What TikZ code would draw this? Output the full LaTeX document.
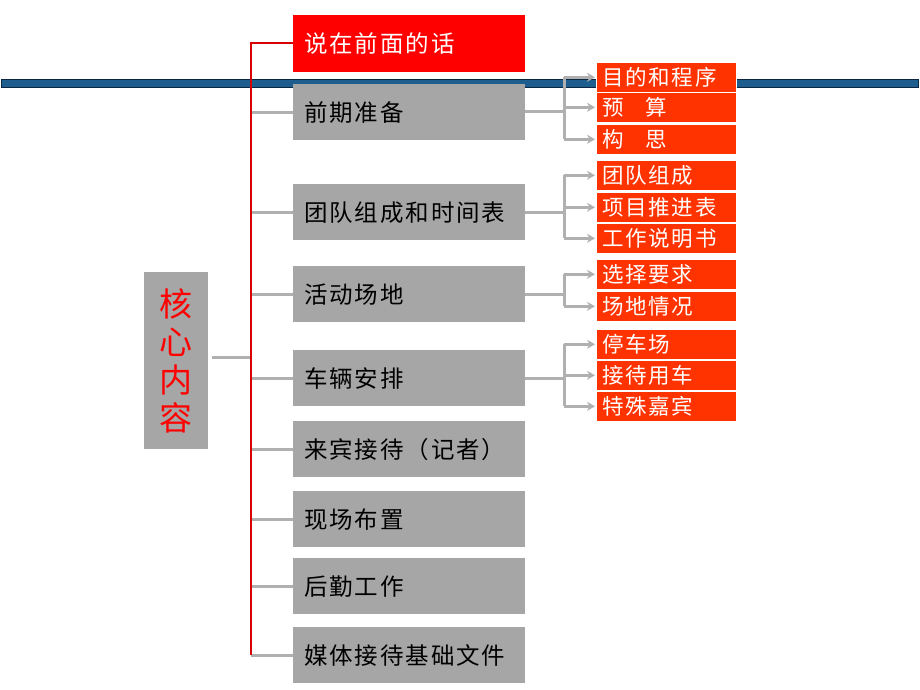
\documentclass[tikz,border=0pt]{standalone}
\usepackage{fontspec}
\newfontfamily\cjk{Noto Sans CJK SC}
\newfontfamily\cjkwide[LetterSpace=8]{Noto Sans CJK SC}
\usetikzlibrary{arrows.meta}
\definecolor{boxgray}{HTML}{A6A6A6}
\definecolor{linegray}{HTML}{B0B0B0}
\definecolor{topred}{HTML}{FF0000}
\definecolor{subred}{HTML}{FF3300}
\definecolor{barblue}{HTML}{1D5E8E}
\definecolor{barnavy}{HTML}{0B2545}
\tikzset{
  mainbox/.style={rectangle, fill=boxgray, anchor=north west, minimum height=56pt,
    text width=210pt, inner xsep=11pt, align=left, font=\cjkwide\fontsize{23.5}{24}\selectfont},
  subbox/.style={rectangle, fill=subred, draw=white, line width=0.6pt, anchor=north west,
    text=white, minimum height=30pt, text width=128pt, inner xsep=6pt, align=left,
    font=\cjkwide\fontsize{21.5}{22}\selectfont},
  glink/.style={draw=linegray, line width=3pt},
  garrow/.style={draw=linegray, line width=2.6pt, -{Stealth[length=8pt,width=9pt]}},
  rlink/.style={draw=topred!85!black, line width=1.8pt},
}
\begin{document}
\begin{tikzpicture}[x=1pt,y=-1pt]
\useasboundingbox (0,0) rectangle (920,690);
\fill[white] (0,0) rectangle (920,690);
% blue bar
\draw[fill=barblue, draw=barnavy, line width=1pt] (1,80) rectangle (918,88);
% core box
\node[rectangle, fill=boxgray, anchor=north west, minimum width=64pt, minimum height=177pt,
  text=topred, font=\cjk\fontsize{33}{38}\selectfont, align=center, inner sep=0pt]
  (core) at (144,272) {核\\心\\内\\容};
% main boxes
\node[mainbox, fill=topred, text=white, minimum height=57pt] (m0) at (293,15) {说在前面的话};
\node[mainbox] (m1) at (293,84) {前期准备};
\node[mainbox] (m2) at (293,184) {团队组成和时间表};
\node[mainbox] (m3) at (293,266) {活动场地};
\node[mainbox] (m4) at (293,350) {车辆安排};
\node[mainbox] (m5) at (293,421) {来宾接待（记者）};
\node[mainbox] (m6) at (293,491) {现场布置};
\node[mainbox] (m7) at (293,558) {后勤工作};
\node[mainbox] (m8) at (293,627) {媒体接待基础文件};
% sub boxes
\node[subbox] (a1) at (596,62) {目的和程序};
\node[subbox] (a2) at (596,92) {预\hspace{1em}算};
\node[subbox] (a3) at (596,124) {构\hspace{1em}思};
\node[subbox] (b1) at (596,160) {团队组成};
\node[subbox] (b2) at (596,192) {项目推进表};
\node[subbox] (b3) at (596,223) {工作说明书};
\node[subbox] (c1) at (596,259) {选择要求};
\node[subbox] (c2) at (596,291) {场地情况};
\node[subbox] (d1) at (596,329) {停车场};
\node[subbox] (d2) at (596,360) {接待用车};
\node[subbox] (d3) at (596,391) {特殊嘉宾};
% trunk coordinates
\coordinate (ttop) at (251,43);
\coordinate (tbot) at (251,655);
\coordinate (tcore) at (251,357);
% gray branches to main boxes
\draw[glink] (core.east |- tcore) ++(4,0) -- (tcore);
\foreach \m in {m1,m2,m3,m4,m5,m6,m7,m8}{
  \draw[glink] (ttop |- \m.west) -- (\m.west);
}
% red trunk
\draw[rlink] (m0.west |- ttop) -- (ttop) -- (tbot);
% sub connectors
\coordinate (ja) at (564,112);
\coordinate (jb) at (564,212);
\coordinate (jc) at (564,294);
\coordinate (jd) at (564,378);
\draw[glink] (m1.east |- ja) -- (ja);
\draw[glink] (m2.east |- jb) -- (jb);
\draw[glink] (m3.east |- jc) -- (jc);
\draw[glink] (m4.east |- jd) -- (jd);
\draw[glink] (ja |- a1.west) -- (ja |- a3.west);
\draw[glink] (jb |- b1.west) -- (jb |- b3.west);
\draw[glink] (jc |- c1.west) -- (jc |- c2.west);
\draw[glink] (jd |- d1.west) -- (jd |- d3.west);
\foreach \s/\j in {a1/ja,a2/ja,a3/ja,b1/jb,b2/jb,b3/jb,c1/jc,c2/jc,d1/jd,d2/jd,d3/jd}{
  \draw[garrow] (\j |- \s.west) -- ([xshift=-1pt]\s.west);
}
\end{tikzpicture}
\end{document}
